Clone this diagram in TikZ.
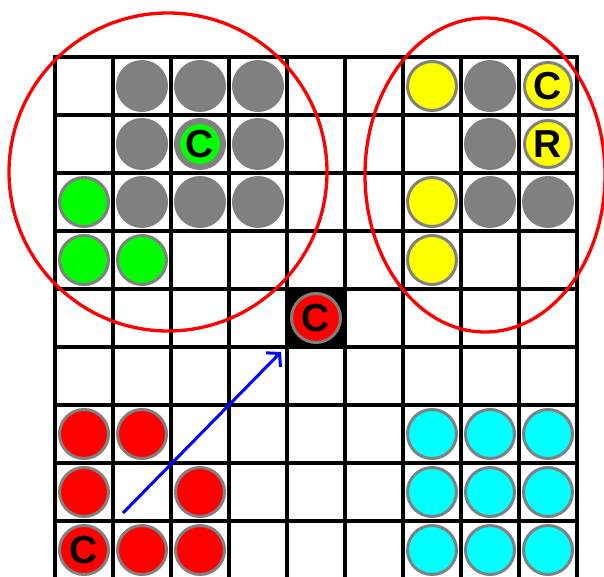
\documentclass[tikz,border=0pt]{standalone}
\usepackage{fontspec}
\setmainfont{Liberation Sans}
\usetikzlibrary{arrows.meta}
\definecolor{piecegray}{RGB}{128,128,128}
\definecolor{piecegreen}{RGB}{0,255,0}
\definecolor{pieceyellow}{RGB}{255,255,0}
\definecolor{piecered}{RGB}{255,0,0}
\definecolor{piececyan}{RGB}{0,255,255}
\definecolor{movblue}{RGB}{0,0,255}
\begin{document}
\begin{tikzpicture}[x=1pt,y=-1pt,line join=miter,
  piece/.style={circle,minimum size=49pt,inner sep=0pt,line width=3pt,draw=piecegray},
  graypc/.style={piece,fill=piecegray},
  greenpc/.style={piece,fill=piecegreen},
  yellowpc/.style={piece,fill=pieceyellow},
  redpc/.style={piece,fill=piecered},
  cyanpc/.style={piece,fill=piececyan},
  lbl/.style={font=\fontsize{39}{39}\selectfont\bfseries,text=black},
  zone/.style={piecered,line width=3.3pt}]
  \useasboundingbox (0,0) rectangle (604,577);
  \fill[white] (0,0) rectangle (604,577);
  \fill[black] (287,289) rectangle (345,347);
  \foreach \k in {0,...,9} {
    \draw[line width=3.5pt,line cap=rect] (55+58*\k,57) -- (55+58*\k,579);
    \draw[line width=3.5pt,line cap=rect] (55,57+58*\k) -- (577,57+58*\k);
  }
  \foreach \c/\r in {1/0,2/0,3/0,7/0,1/1,2/1,3/1,7/1,1/2,2/2,3/2,7/2,8/2}
    \node[graypc] (gray-\c-\r) at ({84+58*\c},{86+58*\r}) {};
  \foreach \c/\r in {0/2,0/3,1/3}
    \node[greenpc] (green-\c-\r) at ({84+58*\c},{86+58*\r}) {};
  \foreach \c/\r in {6/0,6/2,6/3}
    \node[yellowpc] (yellow-\c-\r) at ({84+58*\c},{86+58*\r}) {};
  \foreach \c/\r in {0/6,1/6,0/7,2/7,1/8,2/8}
    \node[redpc] (red-\c-\r) at ({84+58*\c},{86+58*\r}) {};
  \foreach \c in {6,7,8}
    \foreach \r in {6,7,8}
      \node[cyanpc] (cyan-\c-\r) at ({84+58*\c},{86+58*\r}) {};
  \node[greenpc,lbl,minimum size=43pt] (greenC) at (200,144) {C};
  \node[yellowpc,lbl,minimum size=47pt] (yellowC) at (548,86) {C};
  \node[yellowpc,lbl,minimum size=47pt] (yellowR) at (548,144) {R};
  \node[redpc,lbl] (redC) at (316,318) {C};
  \node[redpc,lbl] (homeC) at (84,550) {C};
  \draw[zone] (168,172) circle [radius=159];
  \draw[zone] (485,175) circle [x radius=120,y radius=157];
  \coordinate (movefrom) at (123,513);
  \coordinate (moveto) at (281,352);
  \draw[movblue,line width=3pt,-{Straight Barb[length=9pt,width=20pt]}] (movefrom) -- (moveto);
\end{tikzpicture}
\end{document}
